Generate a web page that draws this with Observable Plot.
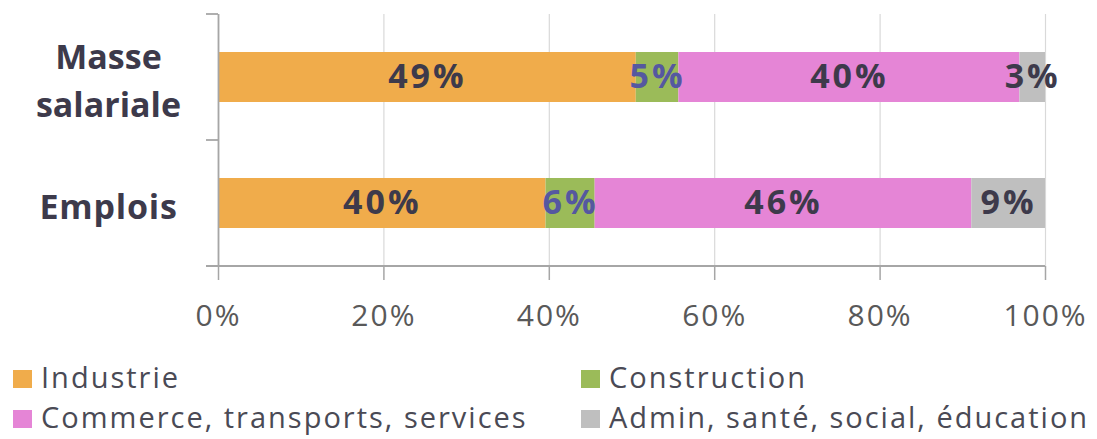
<!DOCTYPE html>
<html>
<head>
<meta charset="utf-8">
<script src="https://cdn.jsdelivr.net/npm/d3@7"></script>
<script src="https://cdn.jsdelivr.net/npm/@observablehq/plot@0.6"></script>
<style>
  html, body { margin: 0; padding: 0; background: #fff; }
  #chart { width: 1097px; }
  #legend {
    display: grid;
    grid-template-columns: 568px auto;
    grid-auto-rows: 40px;
    padding-left: 13px;
    margin-top: 7px;
    font-family: "Open Sans", sans-serif;
    font-size: 29px;
    letter-spacing: 2px;
    color: #4a4a55;
    line-height: 40px;
  }
  .item { display: flex; align-items: flex-start; white-space: nowrap; }
  .sw { width: 19px; height: 18px; margin-top: 13px; margin-right: 9px; flex: none; }
</style>
</head>
<body>
<div id="chart"></div>
<div id="legend"></div>
<script>
// ---- data ----
const categories = ["Masse salariale", "Emplois"];
const categoryLabels = ["Masse\nsalariale", "Emplois"];
const sectors = ["Industrie", "Construction", "Commerce, transports, services", "Admin, santé, social, éducation"];
const sectorColors = ["#F0AC4B", "#9BBB59", "#E585D6", "#BFBFBF"];
const masseSalariale = [49, 5, 40, 3];
const emplois = [40, 6, 46, 9];
const xTicks = [0, 20, 40, 60, 80, 100];

const seriesByCategory = [masseSalariale, emplois];
const rows = [];
categories.forEach((c, i) => {
  sectors.forEach((s, j) => rows.push({category: c, sector: s, value: seriesByCategory[i][j]}));
});

const textDark = "#3d3a4b";
const textConstruction = "#5558a0";
const axisGray = "#a6a6a6";

const plot = Plot.plot({
  width: 1097,
  height: 350,
  marginLeft: 218,
  marginRight: 52,
  marginTop: 14,
  marginBottom: 84,
  style: {fontFamily: "'Open Sans', sans-serif", background: "white", overflow: "visible"},
  x: {domain: [0, 1], axis: null},
  y: {domain: categories, paddingInner: 0.6, paddingOuter: 0.3, axis: null},
  color: {domain: sectors, range: sectorColors},
  marks: [
    Plot.gridX({ticks: xTicks.map(t => t / 100), stroke: "#d9d9d9", strokeOpacity: 1, strokeWidth: 1.2}),
    Plot.barX(rows, Plot.stackX({x: "value", y: "category", fill: "sector", offset: "normalize"})),
    Plot.text(rows, Plot.stackX({
      x: "value", y: "category", z: "sector", offset: "normalize",
      text: d => d.sector === sectors[1] ? "" : d.value + "%",
      fill: textDark, fontSize: 34, fontWeight: "bold"
    })),
    Plot.text(rows, Plot.stackX({
      x: "value", y: "category", z: "sector", offset: "normalize",
      text: d => d.sector === sectors[1] ? d.value + "%" : "",
      fill: textConstruction, fontSize: 34, fontWeight: "bold"
    })),
    Plot.axisX({
      anchor: "bottom",
      ticks: xTicks.map(t => t / 100),
      tickFormat: d => Math.round(d * 100) + "%",
      tickSize: 14, tickPadding: 24,
      fontSize: 30, fill: "#595959", stroke: axisGray, strokeWidth: 1.5,
      label: null
    }),
    Plot.ruleX([0], {stroke: axisGray, strokeWidth: 1.8}),
    Plot.text(categories, {
      y: d => d, text: (d, i) => categoryLabels[i],
      frameAnchor: "left", dx: -110, textAnchor: "middle",
      fontSize: 34, fontWeight: "bold", fill: textDark, lineHeight: 1.42
    })
  ]
});

// axis line along the bottom and band-boundary ticks on the y axis, from the plot's scales
const ys = plot.scale("y");
const xs = plot.scale("x");
const [r0, r1] = ys.range;
const step = ys.step || (r1 - r0) / categories.length;
const x0 = xs.apply(0), x1 = xs.apply(1);
const g = d3.select(plot).append("g").attr("stroke", axisGray).attr("stroke-width", 1.8);
d3.range(categories.length + 1).forEach(i => {
  const yy = r0 + i * step;
  g.append("line")
    .attr("x1", x0 - 12).attr("x2", i === categories.length ? x1 : x0)
    .attr("y1", yy).attr("y2", yy);
});
// letter spacing for labels
d3.select(plot).selectAll("g[aria-label='x-axis tick label'] text").style("letter-spacing", "2px");
d3.select(plot).selectAll("text").filter(function() {
  return /^\d+%$/.test(this.textContent) && !this.closest("g[aria-label='x-axis tick label']");
}).style("letter-spacing", "3px");
d3.select(plot).selectAll("text").filter(function() {
  return categoryLabels.some(l => l.split("\n").includes(this.textContent));
}).style("letter-spacing", "0.8px");

document.getElementById("chart").appendChild(plot);

// legend
const legend = d3.select("#legend");
sectors.forEach((s, i) => {
  const it = legend.append("div").attr("class", "item");
  it.append("span").attr("class", "sw").style("background", sectorColors[i]);
  it.append("span").text(s);
});
</script>
</body>
</html>
